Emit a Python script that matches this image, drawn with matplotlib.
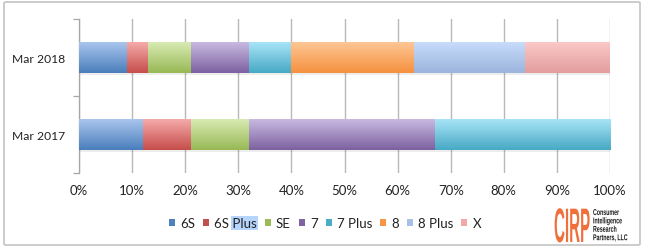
import numpy as np
import matplotlib
matplotlib.use('Agg')
import matplotlib.pyplot as plt
from matplotlib.colors import LinearSegmentedColormap
from matplotlib.patches import Patch, Rectangle, FancyBboxPatch
from matplotlib.patheffects import AbstractPathEffect
from matplotlib.transforms import Affine2D

periods = ['Mar 2017', 'Mar 2018']
models = ['6S', '6S Plus', 'SE', '7', '7 Plus', '8', '8 Plus', 'X']
share_2017 = [12, 9, 11, 35, 33, 0, 0, 0]
share_2018 = [9, 4, 8, 11, 8, 23, 21, 16]
logo_lines = ['Consumer', 'Intelligence', 'Research', 'Partners, LLC']

# (top, bottom) gradient colours, excel 2011 style
top_cols = ['#a9c5ee', '#f4aaa9', '#d8eab2', '#c8b9e1', '#a8e4f7', '#fdc694', '#c7dcfa', '#fbc8c8']
bot_cols = ['#4a7ebb', '#c64e4b', '#98b955', '#7d61a0', '#47a9c4', '#f5913f', '#9cb4de', '#e39d9d']
mid_cols = ['#4f81bd', '#c0504d', '#9bbb59', '#8064a2', '#4bacc6', '#f79646', '#a7c0e8', '#f0a8a8']

plt.rcParams['font.family'] = ['Lato', 'DejaVu Sans']
txt_col = '#222222'


class Stretch(AbstractPathEffect):
    # stretch glyphs (tall condensed logo lettering)
    def __init__(self, sx=1.0, sy=1.0):
        super().__init__()
        self.sx, self.sy = sx, sy

    def draw_path(self, renderer, gc, tpath, affine, rgbFace=None):
        renderer.draw_path(gc, tpath, Affine2D().scale(self.sx, self.sy) + affine, rgbFace)


fig = plt.figure(figsize=(6.48, 2.53), dpi=100)
ax = fig.add_axes([79/648, 1-174/253, (610-79)/648, (174-20)/253])

data = np.array([share_2017, share_2018], dtype=float)
ypos = np.arange(len(periods))
left = np.zeros(len(periods))
grad = np.linspace(0, 1, 64).reshape(-1, 1)
for i, m in enumerate(models):
    bars = ax.barh(ypos, data[:, i], left=left, height=0.39, color=mid_cols[i],
                   edgecolor='none', zorder=3, label=m)
    left += data[:, i]
    cmap = LinearSegmentedColormap.from_list('g%d' % i, [top_cols[i], bot_cols[i]])
    for b in bars:
        if b.get_width() <= 0:
            continue
        x0, y0, w, h = b.get_x(), b.get_y(), b.get_width(), b.get_height()
        # soft shadow below bar
        ax.add_patch(Rectangle((x0, y0 - 0.03), w, 0.03, color='#000000', alpha=0.07,
                               lw=0, zorder=2))
        im = ax.imshow(grad, cmap=cmap, aspect='auto', extent=(x0, x0 + w, y0, y0 + h),
                       origin='upper', zorder=4, interpolation='bilinear')
        im.set_clip_path(b)

ax.set_xlim(0, 100)
ax.set_ylim(-0.5, 1.5)
ax.set_xticks(np.arange(0, 101, 10))
ax.set_xticklabels(['%d%%' % v for v in range(0, 101, 10)], fontsize=9.5, color=txt_col)
ax.set_yticks(ypos)
ax.set_yticklabels(periods, fontsize=8.7, color=txt_col)
ax.set_yticks([-0.5, 0.5, 1.5], minor=True)
ax.tick_params(axis='y', which='major', length=0, pad=10)
ax.tick_params(axis='y', which='minor', length=4, color='#a6a6a6', width=0.9)
ax.tick_params(axis='x', length=0, pad=8)
ax.grid(axis='x', color='#b8b8b8', lw=1.0, zorder=1)
for s in ['top', 'right', 'bottom']:
    ax.spines[s].set_visible(False)
ax.spines['left'].set_color('#a6a6a6')
ax.spines['left'].set_linewidth(0.9)
ax.set_axisbelow(True)

handles = [Patch(facecolor=mid_cols[i], edgecolor='none') for i in range(len(models))]
leg = fig.legend(handles, models, loc='center', bbox_to_anchor=(325/648, 1-224/253), ncol=8,
                 frameon=False, fontsize=9.5, handlelength=0.45, handleheight=0.45,
                 handletextpad=0.38, columnspacing=0.62, borderpad=0, borderaxespad=0)
for t in leg.get_texts():
    t.set_color(txt_col)

# outer frame
fig.patches.append(FancyBboxPatch((4/648, 1-246/253), (640-4)/648, (246-3)/253,
                                  boxstyle='round,pad=0,rounding_size=0.004',
                                  transform=fig.transFigure, fc='none', ec='#c4c4c4', lw=1.2,
                                  zorder=0))

# logo
logo_fam = ['Liberation Sans', 'DejaVu Sans']
fig.text(554/648, 1-243/253, 'CIRP', fontsize=10.9, color='#f0703c', ha='left',
         va='baseline', family=logo_fam, fontweight='bold',
         path_effects=[Stretch(1.0, 3.2)])
for k, line in enumerate(logo_lines):
    fig.text(593/648, 1-(216 + 8.4*k)/253, line, fontsize=3.8, color='#1a1a1a', ha='left',
             va='baseline', family=logo_fam, fontweight='bold',
             path_effects=[Stretch(1.0, 1.6)])

# text selection highlight over "Plus"
fig.canvas.draw()
r = fig.canvas.get_renderer()
for t in leg.get_texts():
    if t.get_text() == '6S Plus':
        bb = t.get_window_extent(r)
        wpre, _, _ = r.get_text_width_height_descent('6S ', t.get_fontproperties(), ismath=False)
        inv = fig.transFigure.inverted()
        (fx0, fy0) = inv.transform((bb.x0 + wpre - 1, bb.y0 - 1))
        (fx1, fy1) = inv.transform((bb.x1 + 1, bb.y1 + 1))
        fig.patches.append(Rectangle((fx0, fy0), fx1 - fx0, fy1 - fy0, transform=fig.transFigure,
                                     fc='#b5d5fd', ec='none', zorder=1))

fig.savefig('out.png', dpi=100, facecolor='white')
